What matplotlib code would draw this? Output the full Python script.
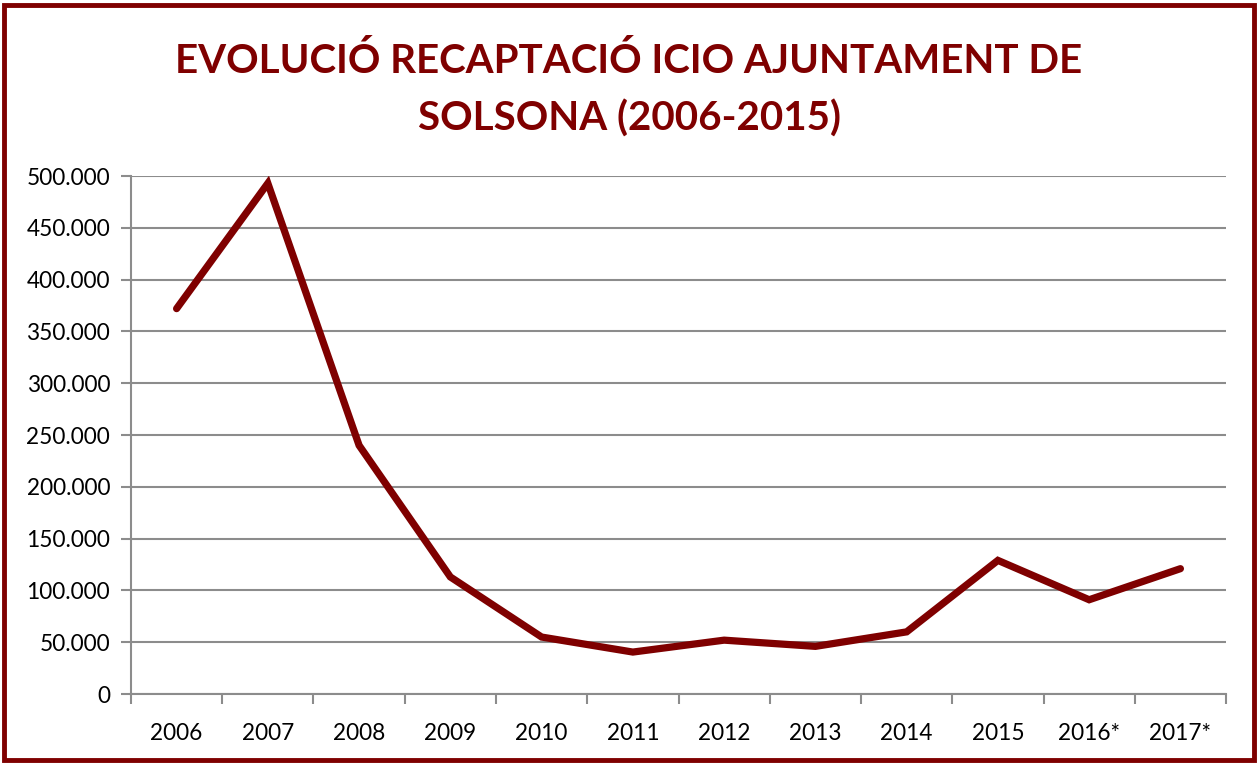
import matplotlib
matplotlib.use("Agg")
import matplotlib.pyplot as plt
from matplotlib.patches import Rectangle
from matplotlib.ticker import FuncFormatter, FixedLocator

years = ["2006", "2007", "2008", "2009", "2010", "2011",
         "2012", "2013", "2014", "2015", "2016*", "2017*"]
recaptacio = [372000, 493000, 240000, 113000, 55000, 40500,
              52000, 46000, 60000, 129000, 91000, 121000]

DARK_RED = "#7f0000"
GRID = "#8c8c8c"

plt.rcParams["font.family"] = ["Lato", "DejaVu Sans"]

fig = plt.figure(figsize=(12.58, 7.63), dpi=100)
ax = fig.add_axes([0.1041, 0.0904, 0.8705, 0.6789])

x = range(len(years))
ax.plot(x, recaptacio, color=DARK_RED, linewidth=5.2, solid_joinstyle="miter",
        solid_capstyle="round")

ax.set_ylim(0, 500000)
ax.set_xlim(-0.5, len(years) - 0.5)
ax.set_yticks(range(0, 500001, 50000))
ax.yaxis.set_major_formatter(FuncFormatter(lambda v, p: f"{int(v):,}".replace(",", ".")))
ax.yaxis.grid(True, color=GRID, linewidth=1.5)
ax.set_axisbelow(True)

ax.set_xticks(list(x))
ax.set_xticklabels(years)
ax.xaxis.set_minor_locator(FixedLocator([i - 0.5 for i in range(len(years) + 1)]))
ax.tick_params(axis="x", which="major", length=0, pad=21, labelsize=16.3)
ax.tick_params(axis="x", which="minor", length=7, width=1.5, color=GRID)
ax.tick_params(axis="y", length=7, width=1.5, color=GRID, labelsize=16.3, pad=8)

for side in ["top", "right"]:
    ax.spines[side].set_visible(False)
for side in ["left", "bottom"]:
    ax.spines[side].set_color(GRID)
    ax.spines[side].set_linewidth(1.5)

fig.text(0.5, 0.882, "EVOLUCIÓ RECAPTACIÓ ICIO AJUNTAMENT DE\nSOLSONA (2006-2015)",
         ha="center", va="center", fontsize=29, fontweight="bold",
         color=DARK_RED, linespacing=1.65)

fig.patches.append(Rectangle((0.003, 0.004), 0.994, 0.99, transform=fig.transFigure,
                             fill=False, edgecolor=DARK_RED, linewidth=3.5))

fig.savefig("out.png", dpi=100)
